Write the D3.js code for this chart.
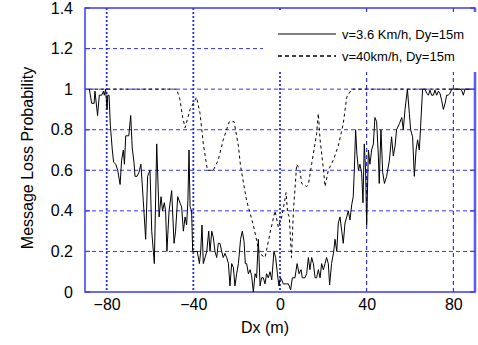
<!DOCTYPE html>
<html>
<head>
<meta charset="utf-8">
<script src="https://cdn.jsdelivr.net/npm/d3@7"></script>
<style>
  body { margin: 0; background: #fff; }
  svg { display: block; font-family: "Liberation Sans", Arial, sans-serif; }
</style>
</head>
<body>
<svg id="chart" width="478" height="345"></svg>
<script>
// v = 3.6 km/h, Dy = 15m  (solid)
const slowX = [-88, -86.9, -85.8, -85.4, -84.2, -83.4, -82.3, -81.5, -81.1, -80.5, -79.8, -79.5, -78.9, -78.3, -77.4, -76.8,
  -75.8, -74.9, -73.8, -73.1, -72.3, -71.8, -71.2, -70.6, -69.8, -68.9, -68.2, -67.4, -66.9, -66.0, -65.1, -64.2,
  -63.1, -62.0, -61.1, -60, -59.2, -58, -56.9, -55.8, -54.9, -54.2, -53.4, -52.8, -52.2, -51.2, -50, -48.9,
  -48.2, -47.2, -46.2, -45.4, -44.6, -43.8, -43.1, -42.5, -42, -41.5, -40.8, -40.3, -39.2, -38.2, -37.2, -36.6,
  -36, -35.4, -34.6, -33.8, -32.9, -32.3, -31.5, -30.8, -30, -29.2, -28.5, -27.7, -26.9, -26.2, -25.4, -24.6,
  -23.8, -23.1, -22.3, -21.5, -20.8, -20, -19.2, -18.2, -17.4, -16.6, -16, -15.4, -14.6, -13.8, -13.1, -12.3,
  -11.5, -10.8, -10, -9.2, -8.5, -7.7, -6.9, -6.2, -5.4, -4.6, -3.8, -2.8, -2, -1.2, -0.5, 0.2,
  0.8, 1.5, 3.1, 3.9, 4.9, 5.7, 6.9, 7.9, 8.8, 9.7, 10.3, 11.5, 12.3, 13.1, 13.8, 14.6,
  15.4, 16.2, 16.9, 17.7, 18.5, 19.2, 20, 20.8, 21.5, 22.3, 22.9, 23.8, 24.8, 25.4, 26.2, 26.9,
  27.7, 28.5, 29.2, 30, 30.8, 31.5, 32.3, 33.1, 33.8, 34.3, 34.9, 35.5, 36.2, 36.9, 37.7, 38.3,
  38.9, 39.5, 40, 40.8, 41.5, 42.3, 43.1, 43.8, 44.6, 45.4, 45.8, 46.6, 47.4, 48.2, 49.2, 50.5,
  51.5, 52.3, 53.1, 53.8, 55.1, 56.2, 56.9, 57.7, 58.8, 59.7, 60.3, 61.2, 62, 62.8, 63.5, 64.3,
  64.9, 65.8, 66.9, 67.7, 68.5, 69.2, 70, 70.8, 71.5, 72.3, 73.1, 73.8, 74.6, 75.4, 76.2, 76.9,
  77.7, 78.5, 79.2, 80, 81.5, 83.1, 83.8, 84.6, 85.4, 87.7];
const slowY = [1.0, 0.93, 0.93, 0.99, 0.87, 0.97, 0.97, 0.99, 0.97, 1.0, 0.90, 0.97, 0.97, 0.82, 0.70, 0.64,
  0.63, 0.60, 0.53, 0.65, 0.70, 0.63, 0.77, 0.77, 0.77, 0.87, 0.71, 0.64, 0.57, 0.57, 0.59, 0.63,
  0.45, 0.26, 0.57, 0.60, 0.30, 0.14, 0.73, 0.37, 0.47, 0.40, 0.44, 0.40, 0.20, 0.40, 0.50, 0.24,
  0.30, 0.47, 0.44, 0.42, 0.30, 0.37, 0.33, 0.45, 0.70, 0.42, 0.40, 0.20, 0.20, 0.20, 0.14, 0.20,
  0.33, 0.14, 0.17, 0.20, 0.30, 0.20, 0.30, 0.27, 0.20, 0.17, 0.24, 0.24, 0.20, 0.17, 0.19, 0.17,
  0.14, 0.03, 0.14, 0.12, 0.03, 0.09, 0.14, 0.26, 0.30, 0.25, 0.14, 0.14, 0.09, 0.11, 0.08, 0.0,
  0.09, 0.07, 0.26, 0.03, 0.07, 0.07, 0.04, 0.09, 0.07, 0.10, 0.06, 0.20, 0.17, 0.09, 0.03, 0.07,
  0.06, 0.04, 0.04, 0.04, 0.01, 0.07, 0.07, 0.14, 0.09, 0.11, 0.07, 0.07, 0.09, 0.17, 0.11, 0.17,
  0.14, 0.07, 0.07, 0.11, 0.07, 0.14, 0.11, 0.14, 0.17, 0.14, 0.035, 0.14, 0.20, 0.26, 0.20, 0.34,
  0.37, 0.30, 0.24, 0.34, 0.37, 0.40, 0.355, 0.43, 0.47, 0.60, 0.80, 0.68, 0.60, 0.63, 0.585, 0.44,
  0.73, 0.60, 0.33, 0.70, 0.63, 0.70, 0.73, 0.86, 0.84, 0.67, 0.535, 0.80, 0.59, 0.535, 0.57, 0.65,
  0.765, 0.67, 0.72, 0.80, 0.83, 0.86, 0.80, 0.90, 1.0, 0.88, 0.80, 0.765, 0.57, 0.70, 0.75, 0.70,
  0.815, 1.0, 1.0, 0.98, 0.97, 0.995, 0.97, 0.97, 0.995, 0.97, 0.99, 0.98, 0.945, 0.90, 0.93, 0.97,
  0.97, 0.98, 1.0, 1.0, 1.0, 1.0, 0.995, 0.97, 1.0, 1.0];

// v = 40 km/h, Dy = 15m  (dashed)
const fastX = [-88, -47.7, -46.2, -44.9, -43.8, -41.5, -38.5, -36.9, -35.4, -33.5, -30.8, -28.5, -26.2, -23.4, -21.2, -19.2,
  -18.2, -15.4, -12.3, -9.5, -6.9, -4.6, -2.3, -0.8, 0.8, 2, 2.8, 3.5, 4.3, 5.3, 6.2, 7.7,
  9.2, 10, 12.3, 13.1, 14.6, 16.9, 17.7, 18.5, 20, 20.8, 22.3, 24.6, 26.9, 29.2, 30.8, 33.1, 88];
const fastY = [1.0, 1.0, 0.95, 0.86, 0.81, 0.90, 0.96, 0.88, 0.73, 0.60, 0.60, 0.65, 0.75, 0.84, 0.84, 0.72,
  0.62, 0.45, 0.33, 0.19, 0.17, 0.29, 0.40, 0.32, 0.37, 0.44, 0.49, 0.39, 0.37, 0.17, 0.40, 0.63,
  0.60, 0.535, 0.52, 0.53, 0.63, 0.78, 0.88, 0.75, 0.61, 0.52, 0.60, 0.65, 0.72, 0.83, 0.96, 1.0, 1.0];

const xTicks = [-80, -40, 0, 40, 80];
const yTicks = [0, 0.2, 0.4, 0.6, 0.8, 1, 1.2, 1.4];
const legendLabels = ["v=3.6 Km/h, Dy=15m", "v=40km/h, Dy=15m"];

const svg = d3.select("#chart");
const plotL = 85, plotR = 475, plotT = 8, plotB = 292;

const x = d3.scaleLinear().domain([-90, 90]).range([plotL, plotR]);
const y = d3.scaleLinear().domain([0, 1.4]).range([plotB, plotT]);

// grid
const grid = svg.append("g");
grid.selectAll("line.h")
  .data(yTicks.filter(d => d > 0 && d < 1.4))
  .join("line")
  .attr("x1", plotL).attr("x2", plotR)
  .attr("y1", d => y(d)).attr("y2", d => y(d))
  .attr("stroke", "#3535ee").attr("stroke-width", 1)
  .attr("stroke-dasharray", "4,3");
grid.selectAll("line.v")
  .data(xTicks)
  .join("line")
  .attr("x1", d => x(d)).attr("x2", d => x(d))
  .attr("y1", plotT).attr("y2", plotB)
  .attr("stroke", d => d <= 0 ? "#2a2ae8" : "#1010c8")
  .attr("stroke-width", d => d <= 0 ? 1.8 : 1)
  .attr("stroke-dasharray", d => d <= 0 ? "2,2" : "4,3");

// frame
svg.append("rect")
  .attr("x", plotL).attr("y", plotT)
  .attr("width", plotR - plotL).attr("height", plotB - plotT)
  .attr("fill", "none").attr("stroke", "#3a3af0").attr("stroke-width", 1.5);
svg.append("line")
  .attr("x1", plotR).attr("x2", plotR).attr("y1", plotT).attr("y2", plotB)
  .attr("stroke", "#5a5af5").attr("stroke-width", 2.5);

// inward ticks
const tickG = svg.append("g").attr("stroke", "#3a3af0").attr("stroke-width", 1.2);
tickG.selectAll("line.l").data(yTicks).join("line")
  .attr("x1", plotL).attr("x2", plotL + 5).attr("y1", d => y(d)).attr("y2", d => y(d));
tickG.selectAll("line.r").data(yTicks).join("line")
  .attr("x1", plotR - 5).attr("x2", plotR).attr("y1", d => y(d)).attr("y2", d => y(d));

// series
const line = d3.line().x(d => x(d[0])).y(d => y(d[1]));
svg.append("path")
  .datum(d3.zip(slowX, slowY))
  .attr("d", line)
  .attr("fill", "none").attr("stroke", "#000").attr("stroke-width", 1);
svg.append("path")
  .datum(d3.zip(fastX, fastY))
  .attr("d", line)
  .attr("fill", "none").attr("stroke", "#000").attr("stroke-width", 1)
  .attr("stroke-dasharray", "3,3");

// axis labels
const yAxis = svg.append("g")
  .attr("transform", `translate(${plotL},0)`)
  .call(d3.axisLeft(y).tickValues(yTicks).tickSize(0).tickPadding(12)
    .tickFormat(d => String(+d.toFixed(1))));
const xAxis = svg.append("g")
  .attr("transform", `translate(0,${plotB})`)
  .call(d3.axisBottom(x).tickValues(xTicks).tickSize(0).tickPadding(7));
[yAxis, xAxis].forEach(a => {
  a.select(".domain").remove();
  a.selectAll("text").attr("font-size", 16).attr("fill", "#000")
    .attr("font-family", "Liberation Sans, Arial, sans-serif");
});

svg.append("text")
  .attr("transform", "translate(33,158) rotate(-90)")
  .attr("text-anchor", "middle")
  .attr("font-size", 16)
  .text("Message Loss Probability");
svg.append("text")
  .attr("x", 265).attr("y", 333)
  .attr("text-anchor", "middle")
  .attr("font-size", 16)
  .text("Dx (m)");

// legend
const legend = svg.append("g");
legend.append("rect")
  .attr("x", 263).attr("y", 12).attr("width", 215).attr("height", 60)
  .attr("fill", "#fff");
const items = legend.selectAll("g.item")
  .data(legendLabels)
  .join("g")
  .attr("transform", (d, i) => `translate(0,${34 + i * 22})`);
items.append("line")
  .attr("x1", 278).attr("x2", 336)
  .attr("stroke", "#000")
  .attr("stroke-width", (d, i) => i ? 1.5 : 1)
  .attr("stroke-dasharray", (d, i) => i ? "4,3" : null);
items.append("text")
  .attr("x", 342).attr("dy", "0.35em")
  .attr("font-size", 13)
  .text(d => d);
</script>
</body>
</html>
